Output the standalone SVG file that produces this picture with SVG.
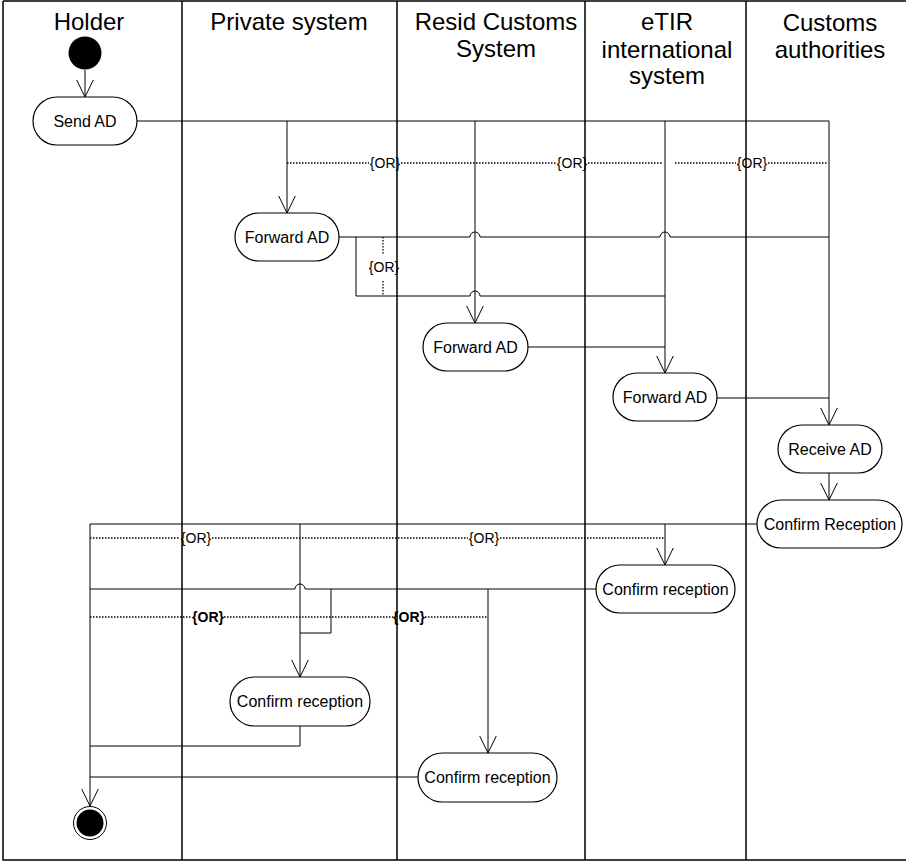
<svg xmlns="http://www.w3.org/2000/svg" width="906" height="862" viewBox="0 0 906 862">
<style>
.lane{stroke:#000;stroke-width:1.5;fill:none}
.title{font-family:"Liberation Sans",Arial,sans-serif;font-size:24px;fill:#000;text-anchor:middle}
.node rect{fill:#fff;stroke:#000;stroke-width:1.2}
.node text{font-family:"Liberation Sans",Arial,sans-serif;font-size:16px;fill:#000;text-anchor:middle}
.c{stroke:#000;stroke-width:1;fill:none}
.arr{marker-end:url(#open)}
.dot{stroke:#000;stroke-width:1.3;stroke-dasharray:1.5 1.5;fill:none}
.or{font-family:"Liberation Sans",Arial,sans-serif;font-size:14px;fill:#000;text-anchor:middle}
.orb{font-weight:bold}
</style>
<defs>
<marker id="open" markerUnits="userSpaceOnUse" viewBox="0 0 18 18" markerWidth="18" markerHeight="18" refX="17" refY="9" orient="auto">
<path d="M0,0.7 L17,9 L0,17.3" fill="none" stroke="#000" stroke-width="1"/>
</marker>
</defs>
<rect width="906" height="862" fill="#fff"/>
<g id="lanes">
<path class="lane" d="M3,1 H906 M3,1 V860 H906"/>
<path class="lane" d="M182,1 V860 M397,1 V860 M585,1 V860 M746,1 V860"/>
<text class="title" x="89" y="30">Holder</text>
<text class="title" x="289" y="30">Private system</text>
<text class="title" x="496" y="29.5">Resid Customs</text>
<text class="title" x="496" y="57">System</text>
<text class="title" x="667" y="30">eTIR</text>
<text class="title" x="667" y="57.5">international</text>
<text class="title" x="667" y="84">system</text>
<text class="title" x="830" y="31">Customs</text>
<text class="title" x="830" y="58">authorities</text>
</g>
<g id="connectors">
<line class="c arr" x1="85" y1="70" x2="85" y2="97"/>
<path class="c" d="M137,121 H829"/>
<line class="c arr" x1="287" y1="121" x2="287" y2="213"/>
<line class="c arr" x1="475" y1="121" x2="475" y2="323"/>
<line class="c arr" x1="665" y1="121" x2="665" y2="373"/>
<line class="c arr" x1="829" y1="121" x2="829" y2="425"/>
<path class="dot" d="M287,163 H369 M401,163 H556 M588,163 H663 M675,163 H736 M768,163 H828"/>
<text class="or" x="385" y="168">{OR}</text>
<text class="or" x="572" y="168">{OR}</text>
<text class="or" x="752" y="168">{OR}</text>
<path class="c" d="M339,237 H470 A5,5 0 0 1 480,237 H660 A5,5 0 0 1 670,237 H829"/>
<path class="c" d="M356,237 V296 H470 A5,5 0 0 1 480,296 H665"/>
<path class="dot" d="M383,237 V255 M383,281 V296"/>
<text class="or" x="384" y="272">{OR}</text>
<line class="c" x1="528" y1="347" x2="665" y2="347"/>
<line class="c" x1="717" y1="398" x2="829" y2="398"/>
<line class="c arr" x1="829" y1="473" x2="829" y2="500"/>
<path class="c" d="M757,524 H90"/>
<line class="c arr" x1="90" y1="524" x2="90" y2="806"/>
<line class="c arr" x1="300" y1="524" x2="300" y2="677"/>
<line class="c arr" x1="665" y1="524" x2="665" y2="565"/>
<path class="dot" d="M90,538 H180 M212,538 H468 M500,538 H665"/>
<text class="or" x="196" y="543">{OR}</text>
<text class="or" x="484" y="543">{OR}</text>
<path class="c" d="M596,589 H305 A5,5 0 0 0 295,589 H90"/>
<path class="c" d="M331,589 V633 H300"/>
<line class="c arr" x1="488" y1="589" x2="488" y2="753"/>
<path class="dot" d="M90,617 H192 M224,617 H393 M425,617 H488"/>
<text class="or orb" x="208" y="622">{OR}</text>
<text class="or orb" x="409" y="622">{OR}</text>
<path class="c" d="M300,726 V746 H90"/>
<path class="c" d="M418,777 H90"/>
</g>
<g id="initial"><circle cx="85" cy="53" r="16.5" fill="#000"/></g>
<g id="send_ad" class="node"><rect x="33" y="97" width="104" height="48" rx="24"/><text x="85" y="126.5">Send AD</text></g>
<g id="forward_private" class="node"><rect x="235" y="213" width="104" height="48" rx="24"/><text x="287" y="242.5">Forward AD</text></g>
<g id="forward_resid" class="node"><rect x="423" y="323" width="105" height="48" rx="24"/><text x="475.5" y="352.5">Forward AD</text></g>
<g id="forward_etir" class="node"><rect x="613" y="373" width="104" height="48" rx="24"/><text x="665" y="402.5">Forward AD</text></g>
<g id="receive_ad" class="node"><rect x="778" y="425" width="104" height="48" rx="24"/><text x="830" y="454.5">Receive AD</text></g>
<g id="confirm_customs" class="node"><rect x="757" y="500" width="145" height="48" rx="24"/><text x="830" y="529.5">Confirm Reception</text></g>
<g id="confirm_etir" class="node"><rect x="596" y="565" width="139" height="48" rx="24"/><text x="665.5" y="594.5">Confirm reception</text></g>
<g id="confirm_private" class="node"><rect x="230" y="677" width="140" height="49" rx="24.5"/><text x="300" y="707">Confirm reception</text></g>
<g id="confirm_resid" class="node"><rect x="418" y="753" width="139" height="49" rx="24.5"/><text x="487.5" y="783">Confirm reception</text></g>
<g id="final"><circle cx="90" cy="823" r="16.5" fill="#fff" stroke="#000" stroke-width="1"/><circle cx="90" cy="823" r="13.5" fill="#000"/></g>
</svg>
